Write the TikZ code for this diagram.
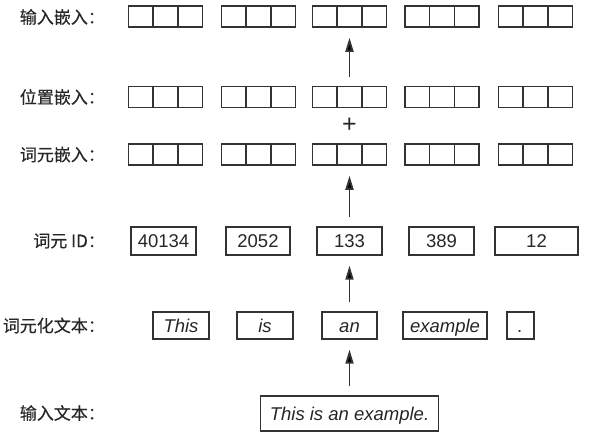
\documentclass[tikz,border=0pt]{standalone}
\usepackage{fontspec}
\setmainfont{Liberation Sans}
\newfontfamily\cjk[FakeBold=0.3]{Noto Sans CJK SC}
\usepackage{tikz}
\usetikzlibrary{arrows.meta,shapes.multipart}

\begin{document}
\begin{tikzpicture}[->,>={Triangle[length=14pt,width=8pt]}
	,shorten >=10pt
	,shorten <=9pt
	,x=1pt,y=-1pt
	,line width=1.3pt,
              draw=black!80]
  \tikzstyle{lbl}
  =[anchor=east,inner sep=0pt,text=black!85
   ,font=\cjk\fontsize{17}{19}\selectfont]
  \tikzstyle{emb}
  =[draw,line width=1.5pt,rectangle split,rectangle split horizontal
   ,rectangle split parts=3,inner sep=0pt,minimum height=21pt
   ,text width=23.6pt,rectangle split empty part width=23.6pt]
  \tikzstyle{box}
  =[draw,inner sep=0pt,minimum height=28pt,text=black!85
   ,text height=13.5pt,text depth=0.3pt
   ,font=\fontsize{18.5}{20}\selectfont]
  \tikzstyle{word}
  =[box,minimum height=27pt,font=\itshape\fontsize{18.5}{20}\selectfont]

  \useasboundingbox (0,0) rectangle (596,440);

  % 6 labels
  \node[lbl](linp) at (105.5,17)    {输入嵌入：};
  \node[lbl](lpos) at (105.5,97)    {位置嵌入：};
  \node[lbl](ltok) at (105.5,154.5) {词元嵌入：};
  \node[lbl](lid)  at (105.5,241)   {词元 ID：};
  \node[lbl](lw)   at (105.5,325.5) {词元化文本：};
  \node[lbl](ltxt) at (105.5,413)   {输入文本：};
  % 5 input embeddings
  \node[emb](inp1) at (165.5,16.5) {\nodepart{two}\nodepart{three}};
  \node[emb](inp2) at (258.5,16.5) {\nodepart{two}\nodepart{three}};
  \node[emb](inp3) at (349.5,16.5) {\nodepart{two}\nodepart{three}};
  \node[emb](inp4) at (442,16.5)   {\nodepart{two}\nodepart{three}};
  \node[emb](inp5) at (535.5,16.5) {\nodepart{two}\nodepart{three}};
  % 5 position embeddings
  \node[emb](pos1) at (165.5,97) {\nodepart{two}\nodepart{three}};
  \node[emb](pos2) at (258.5,97) {\nodepart{two}\nodepart{three}};
  \node[emb](pos3) at (349.5,97) {\nodepart{two}\nodepart{three}};
  \node[emb](pos4) at (442,97)   {\nodepart{two}\nodepart{three}};
  \node[emb](pos5) at (535.5,97) {\nodepart{two}\nodepart{three}};
  % plus
  \node[text=black!85,font=\fontsize{25}{25}\selectfont](plus) at (349.5,125) {+};
  % 5 token embeddings
  \node[emb](tok1) at (165.5,154.5) {\nodepart{two}\nodepart{three}};
  \node[emb](tok2) at (258.5,154.5) {\nodepart{two}\nodepart{three}};
  \node[emb](tok3) at (349.5,154.5) {\nodepart{two}\nodepart{three}};
  \node[emb](tok4) at (442,154.5)   {\nodepart{two}\nodepart{three}};
  \node[emb](tok5) at (535.5,154.5) {\nodepart{two}\nodepart{three}};
  % 5 ids
  \node[box,minimum width=65pt](id1) at (163.5,241) {40134};
  \node[box,minimum width=64pt](id2) at (258,241)   {2052};
  \node[box,minimum width=65pt](id3) at (349.5,241) {133};
  \node[box,minimum width=65pt](id4) at (441.5,241) {389};
  \node[box,minimum width=83pt](id5) at (536.5,241) {12};
  % 5 words
  \node[word,minimum width=56pt](w1) at (181,325.5)   {This};
  \node[word,minimum width=56pt](w2) at (265,325.5)   {is};
  \node[word,minimum width=55pt](w3) at (349.5,325.5) {an};
  \node[word,minimum width=84pt](w4) at (445,325.5)   {example};
  \node[word,minimum width=27pt](w5) at (520.5,325.5) {.};
  % input text
  \node[word,minimum width=178pt,minimum height=35pt](txt) at (349.5,413.5) {This is an example.};

  % bottom to top
  \path [line width=1.8pt] (txt)  edge (w3);
  \path [line width=1.8pt] (w3)   edge (id3);
  \path [line width=1.8pt] (id3)  edge (tok3);
  \path [line width=1.8pt] (pos3) edge (inp3);

\end{tikzpicture}
\end{document}
